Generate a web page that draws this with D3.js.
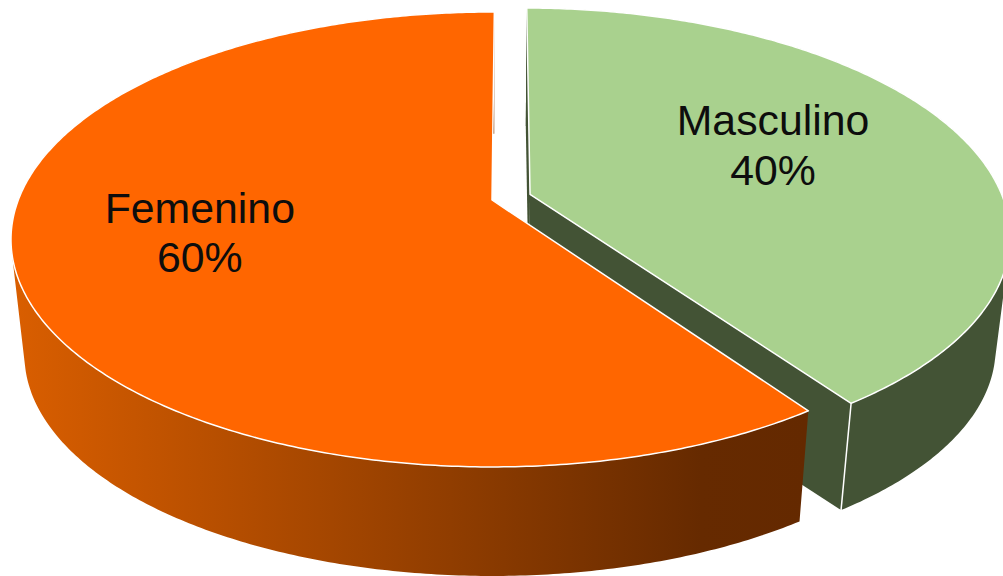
<!DOCTYPE html>
<html>
<head>
<meta charset="utf-8">
<title>Femenino / Masculino</title>
<script src="https://cdn.jsdelivr.net/npm/d3@7"></script>
<style>
  html, body { margin: 0; padding: 0; background: #fff; overflow: hidden; }
  svg { display: block; }
  .pie-label { font-family: "Liberation Sans", Arial, sans-serif; font-size: 42.8px; fill: #0d0d0d; text-anchor: middle; }
</style>
</head>
<body>
<div id="chart"></div>
<script>
  // ── Data ──────────────────────────────────────────
  const categories = ["Masculino", "Femenino"];
  const values = [40.2, 59.8];
  const percentLabels = ["40%", "60%"];

  // ── Config ────────────────────────────────────────
  const width = 1003;
  const height = 576;
  const CX = 492, CY = 200;     // apex of the unexploded slice
  const RX = 473.7, RY = 220.6; // radii of the disc before perspective
  const PERSP = 0.1736;         // back of the disc shrinks, front grows
  const DROP = [112.5, 116.5];  // depth of each slice on screen
  const BOTTOM_SCALE = 0.972;   // lower rim is a bit further from the camera
  const ROTATION = 0.33 * Math.PI / 180;
  const EXPLODE = [0.0845, 0];  // Masculino is pulled out of the pie
  const TOP_COLORS = ["#a9d18e", "#ff6600"];
  const SIDE_GREEN = "#435335";
  const LABEL_R = 0.65;
  const LABEL_NUDGE = [[-39, 6.3], [12, 3.2]];
  const LINE_GAP = 49.5;

  const svg = d3.select("#chart").append("svg")
    .attr("width", width)
    .attr("height", height)
    .attr("viewBox", `0 0 ${width} ${height}`);

  // Side of the orange slice darkens from left to right, flat near the end
  const grad = svg.append("defs").append("linearGradient")
    .attr("id", "side-orange")
    .attr("gradientUnits", "userSpaceOnUse")
    .attr("x1", 15).attr("y1", 0).attr("x2", 808).attr("y2", 0);
  grad.append("stop").attr("offset", "0").attr("stop-color", "#d95e00");
  grad.append("stop").attr("offset", "0.865").attr("stop-color", "#662a00");
  grad.append("stop").attr("offset", "1").attr("stop-color", "#642900");

  // ── Projection ────────────────────────────────────
  // a = clockwise from the back of the disc, r = 0..1, drop = 0 for the top rim
  function project(a, r, ox, oy, drop) {
    const X = ox + r * Math.sin(a);
    const Y = oy + r * Math.cos(a);
    const s = 1 / (1 + PERSP * Y);
    const px = RX * X * s;
    const py = -RY * Y * s;
    if (!drop) return [CX + px, CY + py];
    return [CX + px * BOTTOM_SCALE, CY + drop + py * BOTTOM_SCALE];
  }

  function rimPoints(d, drop) {
    const n = Math.ceil((d.endAngle - d.startAngle) / 0.01);
    return d3.range(n + 1).map(i => {
      const a = d.startAngle + (d.endAngle - d.startAngle) * i / n;
      return project(a, 1, d.ox, d.oy, drop);
    });
  }

  const line = d3.line();

  const slices = d3.pie().sort(null)
    .startAngle(ROTATION)
    .endAngle(ROTATION + 2 * Math.PI)(values)
    .map((d, i) => {
      const mid = (d.startAngle + d.endAngle) / 2;
      return {
        ...d,
        i,
        mid,
        ox: EXPLODE[i] * Math.sin(mid),
        oy: EXPLODE[i] * Math.cos(mid),
      };
    });

  // ── Draw: green first, orange lies over its cut face ──
  slices.forEach(d => {
    const g = svg.append("g");
    const fill = d.i === 0 ? SIDE_GREEN : "url(#side-orange)";
    const top = rimPoints(d, 0);
    const bottom = rimPoints(d, DROP[d.i]);
    const apexTop = project(0, 0, d.ox, d.oy, 0);
    const apexBottom = project(0, 0, d.ox, d.oy, DROP[d.i]);

    // outer wall: quads in one path, all wound the same way so there are no seams
    const wall = d3.pairs(d3.range(top.length)).map(([a, b]) => {
      const quad = [top[a], top[b], bottom[b], bottom[a]];
      if (d3.polygonArea(quad) < 0) quad.reverse();
      return line(quad) + "Z";
    }).join("");
    g.append("path").attr("d", wall).attr("fill", fill);

    // cut faces of the exploded slice
    if (d.i === 0) {
      [[top[0], bottom[0]], [top[top.length - 1], bottom[bottom.length - 1]]].forEach(([t, b]) => {
        g.append("path")
          .attr("d", line([apexTop, t, b, apexBottom]) + "Z")
          .attr("fill", SIDE_GREEN);
      });
      g.append("path")
        .attr("d", line([top[top.length - 1], bottom[bottom.length - 1]]))
        .attr("fill", "none")
        .attr("stroke", "#fff")
        .attr("stroke-width", 1.5);
    }

    // top face
    g.append("path")
      .attr("d", line([apexTop, ...top]) + "Z")
      .attr("fill", TOP_COLORS[d.i])
      .attr("stroke", "#fff")
      .attr("stroke-width", 1.5)
      .attr("stroke-linejoin", "round");
  });

  // ── Labels ────────────────────────────────────────
  slices.forEach(d => {
    const [x, y] = project(d.mid, LABEL_R, d.ox, d.oy, 0);
    const lx = x + LABEL_NUDGE[d.i][0];
    const ly = y + LABEL_NUDGE[d.i][1];
    const label = svg.append("text").attr("class", "pie-label");
    label.append("tspan").attr("x", lx).attr("y", ly - LINE_GAP / 2).text(categories[d.i]);
    label.append("tspan").attr("x", lx).attr("y", ly + LINE_GAP / 2).text(percentLabels[d.i]);
  });
</script>
</body>
</html>
